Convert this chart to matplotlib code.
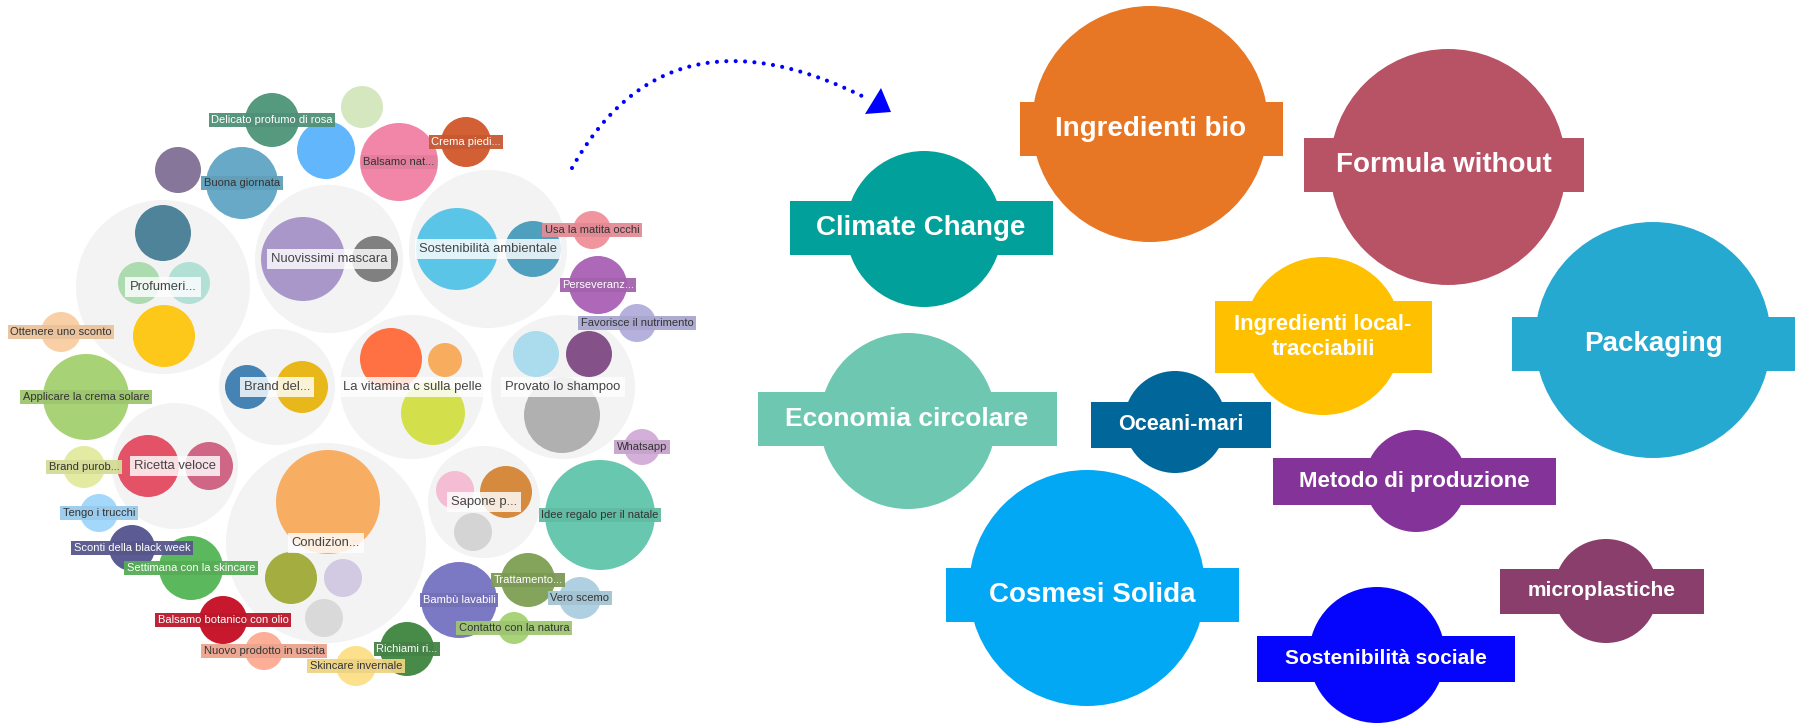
import matplotlib
matplotlib.use("Agg")
import matplotlib.pyplot as plt
from matplotlib.patches import Circle, Rectangle, Polygon
from matplotlib.colors import to_rgb
import numpy as np

plt.rcParams['font.family'] = ['Liberation Sans', 'DejaVu Sans']

W, H = 1802, 723

# ---------------- left chart: packed bubbles ----------------
group_names = ["Profumeri...", "Nuovissimi mascara", "Sostenibilità ambientale",
               "Brand del...", "La vitamina c sulla pelle", "Provato lo shampoo",
               "Ricetta veloce", "Sapone p...", "Condizion..."]
group_x = [163, 329, 488, 277, 412, 563, 175, 484, 326]
group_y = [287, 259, 249, 387, 387, 387, 466, 502, 543]
group_r = [87, 74, 79, 58, 72, 72, 63, 56, 100]

child_x = [163, 139, 189, 164, 303, 375, 457, 533, 247, 302, 391, 445, 433,
           536, 589, 562, 148, 209, 455, 506, 473, 328, 291, 343, 324]
child_y = [233, 283, 283, 336, 259, 259, 249, 249, 387, 387, 359, 360, 413,
           354, 354, 415, 466, 466, 490, 492, 532, 502, 578, 578, 618]
child_r = [28, 21, 21, 31, 42, 23, 41, 28, 22, 26, 31, 17, 32,
           23, 23, 38, 31, 24, 19, 26, 19, 52, 26, 19, 19]
child_colors = ["#4e8399", "#abdbae", "#b2e0d4", "#fdc81a", "#a997c9", "#808080",
                "#5bc5e7", "#4f9fbe", "#4583b5", "#e8b81b", "#ff7042", "#f8ac5e",
                "#d4e04b", "#aadcee", "#845289", "#b0b0b0", "#e45268", "#cf6685",
                "#f4bdd3", "#d68a3d", "#d4d4d4", "#f8ae62", "#a4ad3f", "#d2cae2",
                "#d9d9d9"]

bubble_labels = ["Delicato profumo di rosa", "", "Buona giornata", "", "",
                 "Balsamo nat...", "Crema piedi...", "Usa la matita occhi",
                 "Perseveranz...", "Favorisce il nutrimento", "Ottenere uno sconto",
                 "Applicare la crema solare", "Brand purob...", "Tengo i trucchi",
                 "Sconti della black week", "Settimana con la skincare",
                 "Balsamo botanico con olio", "Nuovo prodotto in uscita",
                 "Skincare invernale", "Richiami ri...", "Bambù lavabili",
                 "Trattamento...", "Vero scemo", "Contatto con la natura",
                 "Idee regalo per il natale", "Whatsapp"]
bubble_x = [272, 178, 242, 326, 362, 399, 466, 592, 598, 637, 61, 86, 84, 99,
            132, 191, 223, 264, 356, 407, 459, 528, 580, 514, 600, 642]
bubble_y = [120, 170, 183, 150, 107, 162, 142, 230, 285, 323, 332, 397, 467, 513,
            548, 568, 620, 651, 666, 649, 600, 580, 598, 628, 515, 447]
bubble_r = [27, 23, 36, 29, 21, 39, 25, 19, 29, 19, 20, 43, 21, 19,
            23, 32, 24, 19, 20, 27, 38, 27, 21, 16, 55, 18]
bubble_colors = ["#55997f", "#85769a", "#67a9c6", "#62b6fb", "#d4e7be", "#f286a9",
                 "#d35f35", "#f0949e", "#ad68b7", "#b4b2dd", "#f9cfa6", "#a8d276",
                 "#e3eba2", "#a4d8fb", "#5c5b94", "#5cb85c", "#c8182e", "#fcae97",
                 "#fce08b", "#488b49", "#7b78c4", "#84a35b", "#afd0e0", "#a8d379",
                 "#68c8af", "#d3afd9"]
bubble_white_text = [True, False, False, False, False, False, True, False, True, False,
                     False, False, False, False, True, True, True, False, False, True,
                     True, True, False, False, False, False]

# ---------------- right chart: topics ----------------
topic_names = ["Climate Change", "Ingredienti bio", "Formula without", "Packaging",
               "Economia circolare", "Cosmesi Solida", "Ingredienti local-\ntracciabili",
               "Oceani-mari", "Metodo di produzione", "microplastiche",
               "Sostenibilità sociale"]
topic_x = [924, 1150, 1448, 1653, 908, 1087, 1323, 1175, 1416, 1606, 1377]
topic_y = [229, 124, 167, 340, 421, 588, 336, 422, 481, 591, 655]
topic_r = [78, 118, 118, 118, 88, 118, 79, 51, 51, 52, 68]
topic_colors = ["#02a09a", "#e77725", "#b85265", "#26a9d0", "#6dc7b1", "#03a8f5",
                "#ffc000", "#016699", "#843398", "#8a3e6b", "#0505fd"]
box_w = [263, 263, 280, 283, 299, 293, 217, 180, 283, 204, 258]
box_h = [54, 54, 54, 54, 54, 54, 72, 46, 47, 45, 46]
box_dx = [-3, 1, -4, 0, -1, 5, 0, 6, -2, -4, 9]
box_dy = [-1, 5, -2, 4, -2, 7, 1, 3, 0, 0, 4]
topic_fs = [20, 20, 20, 20, 19, 20, 16, 15.6, 16, 15, 15]

fig = plt.figure(figsize=(W / 100, H / 100), dpi=100)
ax = fig.add_axes([0, 0, 1, 1])
ax.set_xlim(0, W)
ax.set_ylim(H, 0)
ax.axis("off")

# groups
for gx, gy, gr in zip(group_x, group_y, group_r):
    ax.add_patch(Circle((gx, gy), gr, facecolor="#f3f3f3", edgecolor="none", zorder=1))
for cx, cy, cr, cc in zip(child_x, child_y, child_r, child_colors):
    ax.add_patch(Circle((cx, cy), cr, facecolor=cc, edgecolor="none", zorder=2))
for bx, by, br, bc in zip(bubble_x, bubble_y, bubble_r, bubble_colors):
    ax.add_patch(Circle((bx, by), br, facecolor=bc, edgecolor="none", zorder=2))

for name, gx, gy in zip(group_names, group_x, group_y):
    ax.text(gx, gy, name, ha="center", va="center", fontsize=9.4, color="#444444",
            zorder=6,
            bbox=dict(boxstyle="square,pad=0.32", facecolor="white", alpha=0.82,
                      edgecolor="none"))

for lab, bx, by, bc, wt in zip(bubble_labels, bubble_x, bubble_y, bubble_colors,
                               bubble_white_text):
    if not lab:
        continue
    dark = tuple(np.clip(np.array(to_rgb(bc)) * 0.94, 0, 1))
    ax.text(bx, by, lab, ha="center", va="center", fontsize=8,
            color="white" if wt else "#333333", zorder=7,
            bbox=dict(boxstyle="square,pad=0.22", facecolor=dark, alpha=0.95,
                      edgecolor="none"))

# dotted arrow (quadratic Bezier)
p0 = np.array([572, 168]); p1 = np.array([666, 0]); p2 = np.array([862, 96])
t = np.linspace(0, 1, 400)[:, None]
curve = (1 - t) ** 2 * p0 + 2 * t * (1 - t) * p1 + t ** 2 * p2
ax.plot(curve[:, 0], curve[:, 1], color="#0000ff", linewidth=3.0,
        linestyle=(0, (0.001, 2.25)), dash_capstyle="round", zorder=3)
ax.add_patch(Polygon([[881, 88], [865, 114], [891, 112]], closed=True,
                     facecolor="#0000ff", edgecolor="none", zorder=3))

# right topics
for name, tx, ty, tr, tc, bw, bh, dx, dy, fs in zip(
        topic_names, topic_x, topic_y, topic_r, topic_colors, box_w, box_h,
        box_dx, box_dy, topic_fs):
    ax.add_patch(Circle((tx, ty), tr, facecolor=tc, edgecolor="none", zorder=2))
    cx, cy = tx + dx, ty + dy
    ax.add_patch(Rectangle((cx - bw / 2, cy - bh / 2), bw, bh, facecolor=tc,
                           edgecolor="none", zorder=2))
    ax.text(cx, cy, name, ha="center", va="center", fontsize=fs, color="white",
            fontweight="bold", linespacing=1.28, zorder=4)

fig.savefig("out.png", dpi=100)
